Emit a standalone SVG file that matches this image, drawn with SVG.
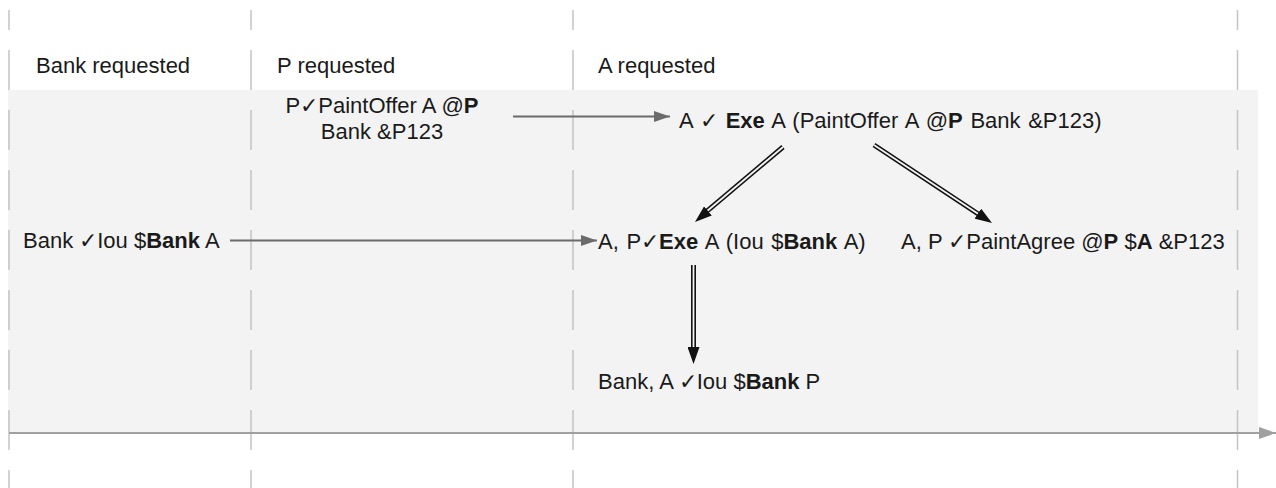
<svg xmlns="http://www.w3.org/2000/svg" width="1276" height="488" viewBox="0 0 1276 488">
<defs>
<style>
text{font-family:"Liberation Sans",Arial,sans-serif;font-size:22px;fill:#1a1a1a}
.b{font-weight:bold}
.lane{stroke:#c4c4c4;stroke-width:1.5;stroke-dasharray:40 20;stroke-dashoffset:20;fill:none}
.msg{stroke:#6b6b6b;stroke-width:2;fill:none}
.dblo{stroke:#111;stroke-width:5;fill:none}
.dbli{stroke:#f3f3f3;stroke-width:1.8;fill:none}
</style>
<marker id="ga" viewBox="0 0 16 11" refX="16" refY="5.5" markerWidth="16" markerHeight="11" markerUnits="userSpaceOnUse" orient="auto">
<path d="M0,0 L16,5.5 L0,11 Z" fill="#6b6b6b"/>
</marker>
<marker id="ba" viewBox="0 0 17 12" refX="17" refY="6" markerWidth="17" markerHeight="12" markerUnits="userSpaceOnUse" orient="auto">
<path d="M0,0 L17,6 L0,12 Z" fill="#111"/>
</marker>
<marker id="axa" viewBox="0 0 17 12" refX="17" refY="6" markerWidth="17" markerHeight="12" markerUnits="userSpaceOnUse" orient="auto">
<path d="M0,0 L17,6 L0,12 Z" fill="#a0a0a0"/>
</marker>
</defs>
<rect id="band" x="8" y="90" width="1250" height="342" fill="#f3f3f3"/>
<g id="lanes">
<line class="lane" x1="9" y1="10" x2="9" y2="488"/>
<line class="lane" x1="251" y1="10" x2="251" y2="488"/>
<line class="lane" x1="573" y1="10" x2="573" y2="488"/>
<line class="lane" x1="1237.5" y1="10" x2="1237.5" y2="488"/>
</g>
<g id="axis">
<line x1="9" y1="433" x2="1276" y2="433" stroke="#a0a0a0" stroke-width="2" marker-end="url(#axa)"/>
</g>
<g id="headers">
<text x="36" y="73">Bank requested</text>
<text x="277" y="73">P requested</text>
<text x="598" y="73">A requested</text>
</g>
<g id="n-paintoffer">
<text x="382" y="113" text-anchor="middle">P✓PaintOffer A @<tspan class="b">P</tspan></text>
<text x="382" y="139" text-anchor="middle">Bank &amp;P123</text>
</g>
<g id="n-exe-paintoffer">
<text x="679" y="128" word-spacing="1.5">A ✓ <tspan class="b">Exe</tspan> A (PaintOffer A @<tspan class="b">P</tspan> Bank &amp;P123)</text>
</g>
<g id="n-bank-iou">
<text x="23" y="248">Bank ✓Iou $<tspan class="b">Bank</tspan> A</text>
</g>
<g id="n-exe-iou">
<text x="598" y="249" word-spacing="1.5">A, P✓<tspan class="b">Exe</tspan> A (Iou $<tspan class="b">Bank</tspan> A)</text>
</g>
<g id="n-paintagree">
<text x="901" y="249">A, P ✓PaintAgree @<tspan class="b">P</tspan> $<tspan class="b">A</tspan> &amp;P123</text>
</g>
<g id="n-iou-p">
<text x="598" y="389">Bank, A ✓Iou $<tspan class="b">Bank</tspan> P</text>
</g>
<g id="connectors">
<line class="msg" x1="513" y1="116.5" x2="670" y2="116.5" marker-end="url(#ga)"/>
<line class="msg" x1="230" y1="240.5" x2="597" y2="240.5" marker-end="url(#ga)"/>
<line class="dblo" x1="783" y1="147" x2="704.6" y2="213.2"/>
<line class="dbli" x1="783" y1="147" x2="706.9" y2="211.2"/>
<line x1="783" y1="147" x2="695" y2="222" stroke="none" marker-end="url(#ba)"/>
<line class="dblo" x1="874" y1="145" x2="982" y2="216.5"/>
<line class="dbli" x1="874" y1="145" x2="979.5" y2="214.8"/>
<line x1="874" y1="145" x2="992" y2="223" stroke="none" marker-end="url(#ba)"/>
<line class="dblo" x1="693.5" y1="265" x2="693.5" y2="350"/>
<line class="dbli" x1="693.5" y1="265" x2="693.5" y2="348"/>
<line x1="693.5" y1="265" x2="693.5" y2="364" stroke="none" marker-end="url(#ba)"/>
</g>
</svg>
